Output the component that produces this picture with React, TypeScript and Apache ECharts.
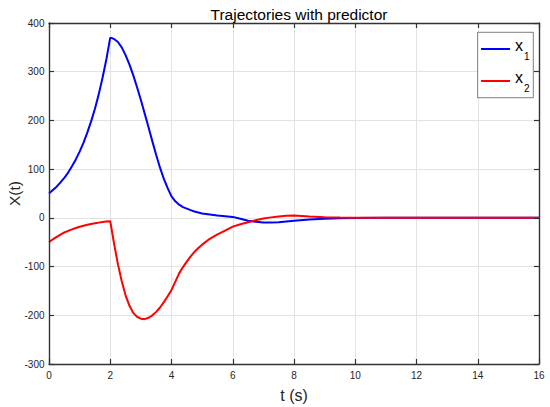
import React, { useEffect, useRef } from "react";
import * as echarts from "echarts";

const titleText = "Trajectories with predictor";
const xName = "t (s)";
const yName = "X(t)";
const seriesNames = ["x1", "x2"];

const times = [
  0, 0.125, 0.25, 0.375, 0.5, 0.625, 0.75, 0.875, 1, 1.125, 1.25, 1.375, 1.5, 1.625, 1.75, 1.875, 2,
  2.0625, 2.125, 2.25, 2.375, 2.5, 2.625, 2.75, 2.875, 3, 3.125, 3.25, 3.375, 3.5, 3.625, 3.75, 3.875, 4,
  4.125, 4.25, 4.375, 4.5, 4.625, 4.75, 4.875, 5,
  5.25, 5.5, 5.75, 6, 6.25, 6.5, 6.75, 7, 7.25, 7.5, 7.75, 8,
  8.5, 9, 9.5, 10, 11, 12, 13, 14, 15, 16,
];
const x1 = [
  50, 57, 64, 73, 82, 93, 106, 120, 136, 154, 175, 198, 224, 254, 288, 326, 370,
  369, 367, 361, 350, 334, 315, 293, 268, 242, 214, 186, 157, 129, 103, 80, 61, 44,
  34, 27, 22, 19, 16, 13, 11, 9,
  7, 5, 3.5, 2, -2, -6, -8, -9.5, -9.5, -9, -7.5, -6,
  -3.5, -2, -1, -0.3, 0, 0, 0, 0, 0, 0,
];
const x2 = [
  -50, -44, -39, -34.4, -30, -26.8, -23.6, -20.8, -18.4, -16.2, -14.3, -12.6, -11.2, -9.8, -8.7, -7.7, -6.8,
  -30, -53, -95, -130, -159, -180, -195, -203, -207, -208, -205, -200, -193, -184, -173, -161, -148,
  -131, -114, -101, -90, -79, -70, -62, -55,
  -43, -34, -26, -18, -13, -9, -5, -1.5, 1, 3, 4.5, 5,
  3, 1.5, 0.5, 0, 0, 0, 0, 0, 0, 0,
];

const FONT = "Liberation Sans, Arial, Helvetica, sans-serif";
const AXIS = "#262626";
const GRIDC = "#e3e3e3";

export default function App() {
  const ref = useRef<HTMLDivElement>(null);
  useEffect(() => {
    document.body.style.margin = "0";
    const chart = echarts.init(ref.current!, null, { renderer: "svg" });
    const line = () => ({ show: true, onZero: false, lineStyle: { color: "#333333", width: 1.4 } });
    const tick = () => ({ show: true, inside: true, length: 5, lineStyle: { color: "#333333", width: 1.2 } });
    const xRange = { type: "value", min: 0, max: 16, interval: 2 };
    const yRange = { type: "value", min: -300, max: 400, interval: 100 };
    const gridOnly = () => ({
      axisLine: { show: false },
      axisTick: { show: false },
      axisLabel: { show: false },
      splitLine: { show: true, showMinLine: false, showMaxLine: false, lineStyle: { color: GRIDC, width: 1 } },
      z: 0,
    });
    chart.setOption({
      animation: false,
      backgroundColor: "#fff",
      title: {
        text: titleText,
        left: 294,
        top: 1,
        textAlign: "center",
        textStyle: { fontFamily: FONT, fontSize: 15.5, fontWeight: "normal", color: "#000" },
      },
      grid: { left: 49, right: 11, top: 23, bottom: 43, outerBoundsMode: "none" },
      legend: {
        orient: "vertical",
        right: 16.7,
        top: 32.3,
        padding: [4.7, 3.7, 4.7, 3.4],
        itemGap: 8,
        itemWidth: 29,
        itemHeight: 2,
        icon: "rect",
        z: 10,
        backgroundColor: "#fff",
        borderColor: AXIS,
        borderWidth: 0.6,
        borderRadius: 0,
        data: seriesNames,
        formatter: (name: string) => `{b|x}{s|${name.slice(1)}}`,
        textStyle: {
          fontFamily: FONT,
          color: "#000",
          rich: {
            b: { fontFamily: FONT, fontSize: 16, lineHeight: 16, padding: [0, 0, 8, 0], color: "#000" },
            s: { fontFamily: FONT, fontSize: 10, lineHeight: 10, padding: [14, 0, 0, 1], color: "#000" },
          },
        },
      },
      xAxis: [
        {
          ...xRange,
          position: "bottom",
          name: xName,
          nameLocation: "middle",
          nameGap: 23,
          nameMoveOverlap: false,
          nameTextStyle: { fontFamily: FONT, fontSize: 16, color: AXIS },
          axisLine: line(),
          axisTick: tick(),
          axisLabel: { fontFamily: FONT, fontSize: 10, color: AXIS, margin: 6 },
          splitLine: { show: false },
          z: 5,
        },
        {
          ...xRange,
          position: "top",
          axisLine: line(),
          axisTick: tick(),
          axisLabel: { show: false },
          splitLine: { show: false },
          z: 5,
        },
        { ...xRange, position: "bottom", ...gridOnly() },
      ],
      yAxis: [
        {
          ...yRange,
          position: "left",
          name: yName,
          nameLocation: "middle",
          nameGap: 27,
          nameMoveOverlap: false,
          nameTextStyle: { fontFamily: FONT, fontSize: 15.5, color: AXIS },
          axisLine: line(),
          axisTick: tick(),
          axisLabel: { fontFamily: FONT, fontSize: 10, color: AXIS, margin: 4.5 },
          splitLine: { show: false },
          z: 5,
        },
        {
          ...yRange,
          position: "right",
          axisLine: line(),
          axisTick: tick(),
          axisLabel: { show: false },
          splitLine: { show: false },
          z: 5,
        },
        { ...yRange, position: "left", ...gridOnly() },
      ],
      series: [
        {
          name: seriesNames[0],
          type: "line",
          showSymbol: false,
          symbol: "none",
          xAxisIndex: 0,
          yAxisIndex: 0,
          data: times.map((t, i) => [t, x1[i]]),
          lineStyle: { color: "#0000ff", width: 2 },
          itemStyle: { color: "#0000ff" },
          z: 3,
        },
        {
          name: seriesNames[1],
          type: "line",
          showSymbol: false,
          symbol: "none",
          xAxisIndex: 1,
          yAxisIndex: 1,
          data: times.map((t, i) => [t, x2[i]]),
          lineStyle: { color: "#ff0000", width: 2 },
          itemStyle: { color: "#ff0000" },
          z: 4,
        },
      ],
    });
    return () => chart.dispose();
  }, []);
  return <div ref={ref} style={{ width: 550, height: 407 }} />;
}
